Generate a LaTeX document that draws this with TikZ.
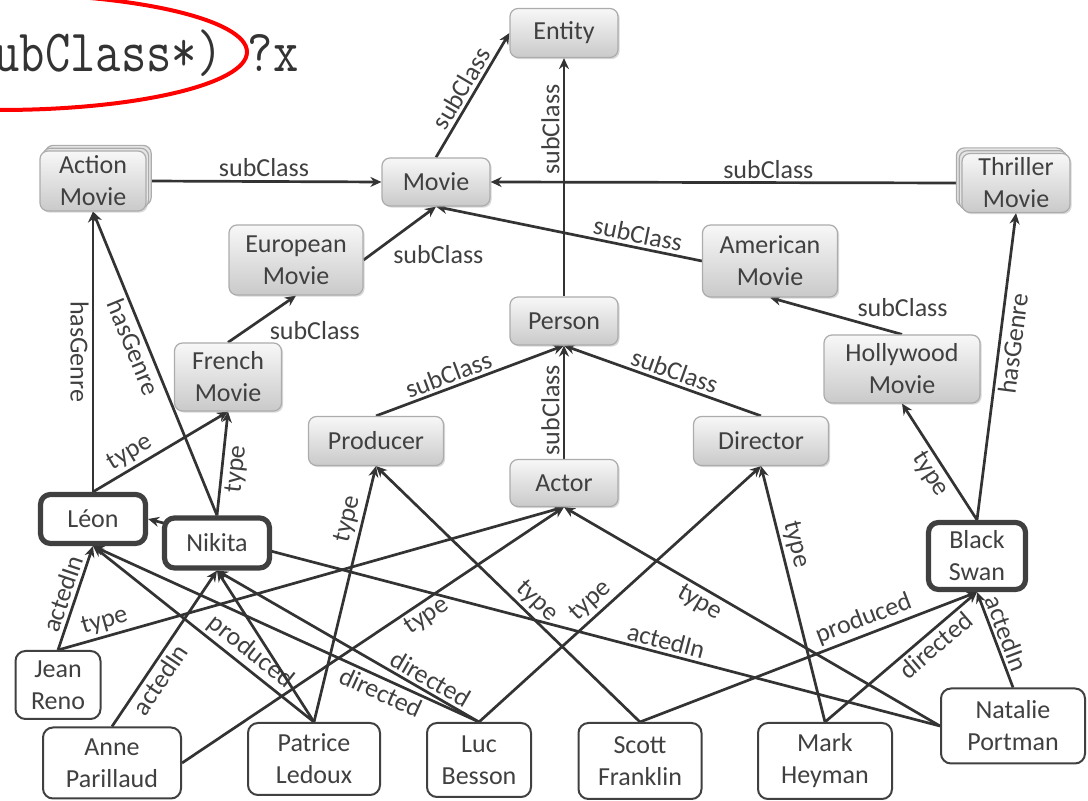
\documentclass[tikz,border=0pt]{standalone}
\usepackage{graphicx}
\usepackage{fontspec}
\setmainfont{Carlito}
\usetikzlibrary{arrows.meta,shadows,backgrounds}
\begin{document}
\begin{tikzpicture}[x=0.5pt, y=-0.5pt, >={Stealth[length=5.5pt,width=5pt]}]
    \newcommand{\rnd}{4pt} % radius of the box corners
    \newcommand{\edgew}{1.35pt} % width of the links
    \newcommand{\keyw}{2.6pt} % border of the queried movies

    % set the styles of the boxes and links
    \tikzset{
        cls/.style={draw=gray!65, line width=0.6pt, rounded corners=\rnd,
            top color=gray!6, bottom color=gray!42, text=black!75,
            align=center, inner sep=1pt, font=\fontsize{13}{16}\selectfont,
            drop shadow={opacity=.3, shadow xshift=.8pt, shadow yshift=-.8pt}},
        stackbox/.style={copy shadow={shadow xshift=#1*2, shadow yshift=2.8pt,
                fill=gray!20, draw=gray!65, line width=0.6pt},
            copy shadow={shadow xshift=#1, shadow yshift=1.4pt,
                fill=gray!20, draw=gray!65, line width=0.6pt}},
        inst/.style={draw=black!75, line width=1pt, rounded corners=5pt,
            fill=white, text=black!75, align=center, inner sep=1pt,
            font=\fontsize{13}{16}\selectfont},
        keymovie/.style={inst, line width=\keyw},
        lbl/.style={font=\fontsize{13}{13}\selectfont, text=black!75, inner sep=1.5pt},
        link/.style={->, draw=black!80, line width=\edgew, nodes={lbl}}
    }

    \useasboundingbox (0,0) rectangle (1088,801);

    % query
    \node[anchor=base west, inner sep=0pt, text=black!80] (query) at (-6,72)
        {\scalebox{0.82}[1]{\fontsize{30}{30}\selectfont\ttfamily ubClass*) ?x}};
    \draw[red, line width=2pt] (0,52) ellipse [x radius=123.5pt, y radius=29pt];

    % classes
    \node[cls, minimum width=54pt, minimum height=24.5pt] (entity) at (564,33) {Entity};
    \node[cls, minimum width=54pt, minimum height=24pt] (movie) at (436,182) {Movie};
    \node[cls, stackbox=1.3pt, minimum width=53pt, minimum height=30pt] (action) at (93,181) {Action\\Movie};
    \node[cls, stackbox=-1.4pt, minimum width=54pt, minimum height=29.5pt] (thriller) at (1016,183) {Thriller\\Movie};
    \node[cls, minimum width=67pt, minimum height=35pt] (european) at (296,260) {European\\Movie};
    \node[cls, minimum width=67.5pt, minimum height=36pt] (american) at (770,261) {American\\Movie};
    \node[cls, minimum width=54pt, minimum height=24pt] (person) at (564,321) {Person};
    \node[cls, minimum width=53.5pt, minimum height=34pt] (french) at (228,377) {French\\Movie};
    \node[cls, minimum width=78pt, minimum height=34pt] (hollywood) at (902,369) {Hollywood\\Movie};
    \node[cls, minimum width=67.5pt, minimum height=24.5pt] (producer) at (376,441) {Producer};
    \node[cls, minimum width=67.5pt, minimum height=24.5pt] (director) at (761,441) {Director};
    \node[cls, minimum width=54pt, minimum height=23.5pt] (actor) at (564,483) {Actor};

    % instances
    \node[keymovie, minimum width=52.5pt, minimum height=24.5pt] (leon) at (93,519) {Léon};
    \node[keymovie, minimum width=52.5pt, minimum height=25pt] (nikita) at (217,543) {Nikita};
    \node[keymovie, minimum width=48.5pt, minimum height=33.5pt] (blackswan) at (977,556) {Black\\Swan};
    \node[inst, minimum width=42.5pt, minimum height=34pt] (jean) at (58,685) {Jean\\Reno};
    \node[inst, minimum width=69pt, minimum height=35.5pt] (anne) at (112,763) {Anne\\Parillaud};
    \node[inst, minimum width=66pt, minimum height=36pt] (patrice) at (314,759) {Patrice\\Ledoux};
    \node[inst, minimum width=52pt, minimum height=37pt] (luc) at (479,760) {Luc\\Besson};
    \node[inst, minimum width=61.5pt, minimum height=38pt] (scott) at (640,761) {Scott\\Franklin};
    \node[inst, minimum width=67pt, minimum height=38pt] (mark) at (825,761) {Mark\\Heyman};
    \node[inst, minimum width=72pt, minimum height=37.5pt] (natalie) at (1013,726) {Natalie\\Portman};

    \begin{scope}[on background layer]
        % subclass links
        \draw[link] (movie.north) -- (entity.west) node[sloped, above, midway] {subClass};
        \draw[link] (person.north) -- (entity.south) node[sloped, above, pos=.7] {subClass};
        \draw[link] (action.east) -- (movie.west) node[above, midway] {subClass};
        \draw[link] (thriller.west) -- (movie.east) node[above, pos=.41] {subClass};
        \draw[link] (european.east) -- (movie.south) node[anchor=north west, pos=.35] {subClass};
        \draw[link] (american.west) -- (movie.south) node[sloped, above, pos=.25] {subClass};
        \draw[link] (hollywood.north) -- (american.south) node[anchor=south west, pos=.37] {subClass};
        \draw[link] (french.north) -- (european.south) node[anchor=north west, pos=.55] {subClass};
        \draw[link] (producer.north) -- (person.south) node[sloped, above, pos=.41] {subClass};
        \draw[link] (director.north) -- (person.south) node[sloped, above, pos=.46] {subClass};
        \draw[link] (actor.north) -- (person.south) node[sloped, above, pos=.43] {subClass};

        % genres and types of the movies
        \draw[link] (leon.north) -- (action.south) node[rotate=-90, below, midway] {hasGenre};
        \draw[link] (nikita.north) -- (action.south) node[sloped, below, pos=.57] {hasGenre};
        \draw[link] (leon.north) -- (french.south) node[sloped, above, pos=.33] {type};
        \draw[link] (nikita.north) -- (french.south) node[sloped, below, pos=.46] {type};
        \draw[link] (blackswan.north) -- (hollywood.south) node[sloped, below, pos=.46] {type};
        \draw[link] (blackswan.north) -- (thriller.south) node[sloped, below, pos=.58] {hasGenre};

        % people
        \draw[link] (jean.north) -- (leon.south) node[sloped, above, midway] {actedIn};
        \draw[link] (jean.north) -- (actor.south) node[sloped, above, pos=.1] {type};
        \draw[link] (anne.north) -- (nikita.south) node[sloped, below, pos=.35] {actedIn};
        \draw[link] (anne.east) -- (actor.south) node[sloped, below, pos=.62] {type};
        \draw[link] (patrice.north) -- (leon.south) node[sloped, above, pos=.33] {produced};
        \draw[link] (patrice.north) -- (nikita.south);
        \draw[link] (patrice.north) -- (producer.south) node[sloped, above, pos=.78] {type};
        \draw[link] (luc.north) -- (leon.south) node[sloped, below, pos=.24] {directed};
        \draw[link] (luc.north) -- (nikita.south) node[sloped, above, pos=.21] {directed};
        \draw[link] (luc.north) -- (director.south) node[sloped, above, pos=.43] {type};
        \draw[link] (scott.north) -- (producer.south) node[sloped, above, pos=.43] {type};
        \draw[link] (scott.north) -- (blackswan.south) node[sloped, above, pos=.68] {produced};
        \draw[link] (mark.north) -- (director.south) node[sloped, above, pos=.68] {type};
        \draw[link] (mark.north) -- (blackswan.south) node[sloped, below, pos=.67] {directed};
        \draw[link] (natalie.west) -- (leon.east) node[sloped, above, pos=.35] {actedIn};
        \draw[link] (natalie.west) -- (actor.south) node[sloped, below, pos=.62] {type};
        \draw[link] (natalie.north) -- (blackswan.south) node[sloped, above, pos=.52] {actedIn};
    \end{scope}
\end{tikzpicture}
\end{document}
